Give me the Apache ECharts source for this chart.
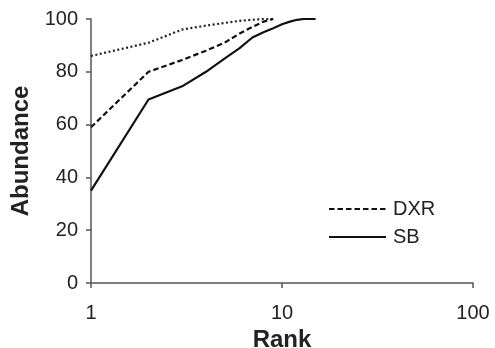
<!DOCTYPE html>
<html>
<head>
<meta charset="utf-8">
<script src="https://cdn.jsdelivr.net/npm/echarts@6/dist/echarts.min.js"></script>
<style>
  html, body { margin: 0; padding: 0; background: #fff; }
  #chart { width: 495px; height: 348px; }
</style>
</head>
<body>
<div id="chart"></div>
<script>
// values
var dottedRank = [1, 2, 3, 4, 5, 6, 7, 8, 9];
var dottedVals = [86, 91, 96, 97.5, 98.5, 99.3, 99.7, 100, 100];

var dxrRank = [1, 2, 3, 4, 5, 6, 7, 8, 9];
var dxrVals = [59, 80, 84.5, 88, 91, 94.5, 97, 99, 100];

var sbRank = [1, 2, 3, 4, 5, 6, 7, 8, 9, 10, 11, 12, 13, 14, 15];
var sbVals = [35, 69.5, 74.5, 80, 85, 89, 93, 95, 96.5, 98, 99, 99.7, 100, 100, 100];

var yTicks = [0, 20, 40, 60, 80, 100];

function pairs(xs, ys) {
    return xs.map(function(x, i) { return [x, ys[i]]; });
}

var font = 'Liberation Sans';
var axisColor = '#555';
var textColor = '#222';

var chart = echarts.init(document.getElementById('chart'));
chart.setOption({
    animation: false,
    grid: {left: 91, right: 22, top: 19, bottom: 65, containLabel: false, outerBoundsMode: 'none'},
    legend: {
        data: ['DXR', 'SB'],
        orient: 'vertical',
        left: 328, top: 199, padding: 0,
        itemWidth: 57, itemHeight: 14, itemGap: 8,
        itemStyle: {opacity: 0},
        textStyle: {fontFamily: font, fontSize: 20, lineHeight: 20, color: textColor, padding: [0, 0, 0, 2]}
    },
    xAxis: {
        type: 'log', logBase: 10, min: 1, max: 100,
        name: 'Rank', nameLocation: 'middle', nameGap: 42,
        nameTextStyle: {fontFamily: font, fontSize: 24, fontWeight: 'bold', color: textColor},
        axisLine: {lineStyle: {color: axisColor, width: 1.5}},
        axisTick: {show: true, length: 5, inside: false, lineStyle: {color: axisColor, width: 1.5}},
        axisLabel: {fontFamily: font, fontSize: 20, color: textColor, margin: 20},
        splitLine: {show: false},
        minorTick: {show: false}
    },
    yAxis: {
        type: 'value', min: 0, max: 100, interval: 20,
        name: 'Abundance', nameLocation: 'middle', nameGap: 53,
        nameTextStyle: {fontFamily: font, fontSize: 24, fontWeight: 'bold', color: textColor},
        axisLine: {show: true, lineStyle: {color: axisColor, width: 1.5}},
        axisTick: {show: true, length: 5, lineStyle: {color: axisColor, width: 1.5}},
        axisLabel: {
            fontFamily: font, fontSize: 20, color: textColor, margin: 13,
            formatter: function(v) { return yTicks.indexOf(v) >= 0 ? String(v) : ''; }
        },
        splitLine: {show: false}
    },
    series: [
        {
            name: 'dotted', type: 'line', symbol: 'none', silent: true,
            data: pairs(dottedRank, dottedVals),
            lineStyle: {color: '#222', width: 2.2, type: [2, 2.5]}
        },
        {
            name: 'DXR', type: 'line', symbol: 'none',
            data: pairs(dxrRank, dxrVals),
            lineStyle: {color: '#111', width: 2.2, type: [5.5, 3]}
        },
        {
            name: 'SB', type: 'line', symbol: 'none',
            data: pairs(sbRank, sbVals),
            lineStyle: {color: '#111', width: 2.2}
        }
    ]
});
</script>
</body>
</html>
